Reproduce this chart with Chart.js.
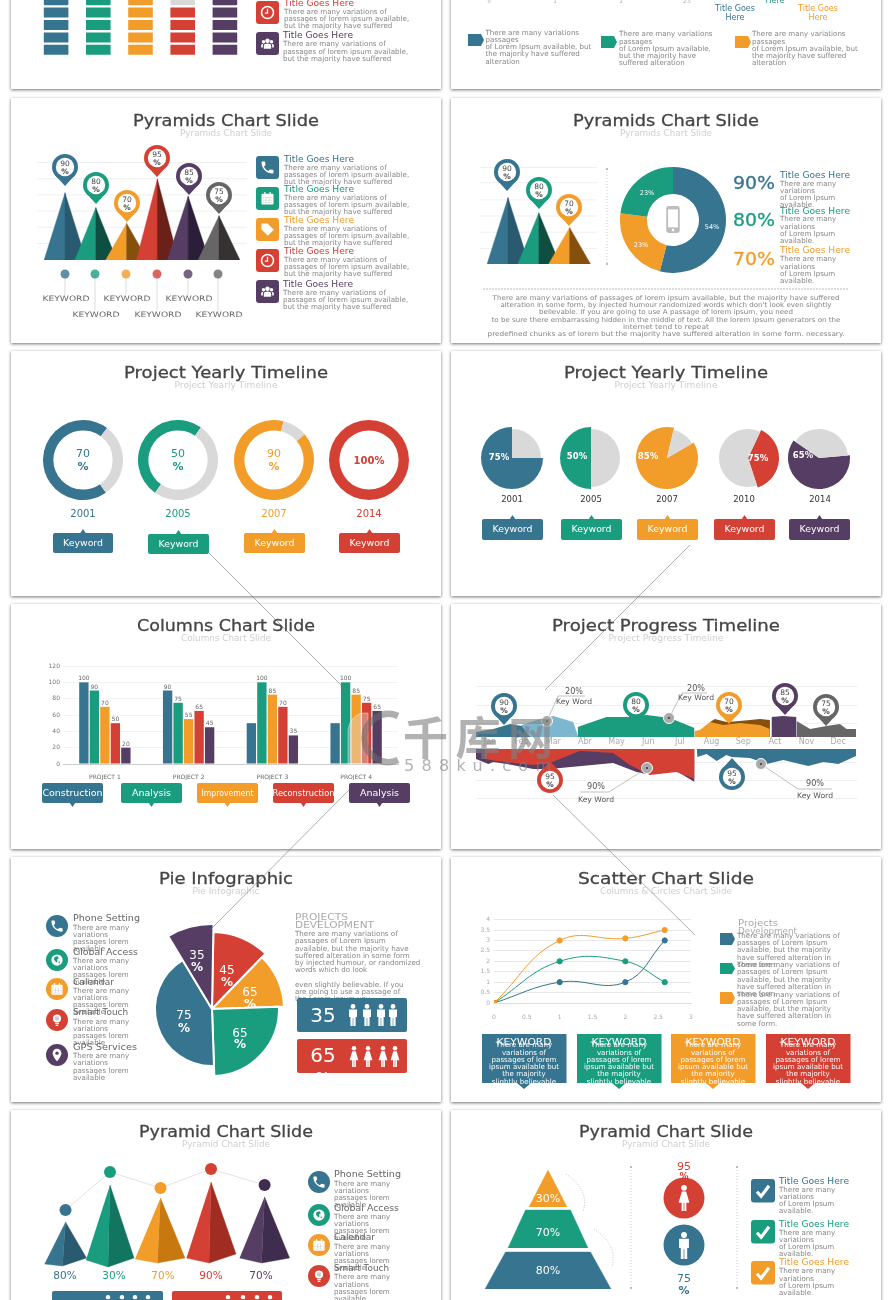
<!doctype html>
<html><head><meta charset="utf-8">
<script src="https://cdn.jsdelivr.net/npm/chart.js@4/dist/chart.umd.js"></script>
<style>
html,body{margin:0;padding:0;background:#fff;width:892px;height:1300px;overflow:hidden}
#page{position:relative;width:892px;height:1300px;overflow:hidden}
.card{position:absolute;width:430px;height:245px;background:#fff;box-shadow:0 1px 3px rgba(0,0,0,.55)}
canvas{position:absolute;display:block}
svg{position:absolute;left:0;top:0}
</style></head><body><div id="page"></div>
<script>
// ---------- data ----------
const BLUE='#37748f',GREEN='#1a9c7f',ORANGE='#f29c2a',RED='#d44033',PURPLE='#553d64',GRAY='#666666';
const cellColumns=[BLUE,GREEN,ORANGE,RED,PURPLE];
const cellRows=[[1,1,1,1,1],[1,1,1,1,1],[1,1,1,1,1],[1,1,1,1,1],[1,1,1,0,1]];

const pyramidHeightsA=[82,64,45,99,78,54];
const pyramidPinsA=[90,80,70,95,85,75];
const pyramidHeightsB=[82,63,45];
const pyramidPinsB=[90,80,70];
const donutShares=[54,23,23];
const donutLabels=['54%','23%','23%'];

const ringValues=[70,50,90,100];
const ringYears=['2001','2005','2007','2014'];
const pieYears=['2001','2005','2007','2010','2014'];
const pieLabels=['75%','50%','85%','75%','65%'];
const pieColoured=[75,50,87,38,61];

const barCategories=['PROJECT 1','PROJECT 2','PROJECT 3','PROJECT 4'];
const barBlue=[100,90,50,50];
const barGreen=[90,75,100,100];
const barOrange=[70,55,85,85];
const barRed=[50,65,70,75];
const barPurple=[20,45,35,65];
const barBlueLabels=[100,90,null,null];
const barTicks=[0,20,40,60,80,100,120];
const barButtons=['Construction','Analysis','Improvement','Reconstruction','Analysis'];

const months=['Jan','Feb','Mar','Abr','May','Jun','Jul','Aug','Sep','Act','Nov','Dec'];
const areaDarkBlueX=[-0.44,0.11,0.63,1,1.26],areaDarkBlueY=[5,8,13,11,0];
const areaLightBlueX=[0.74,1,1.68,2,2.63,2.79],areaLightBlueY=[0,12,19,21,15,0];
const areaGreenX=[2.77,3.68,4.42,4.95,5.68,6.46],areaGreenY=[10,20,20,22,19,9];
const areaOrangeX=[6.46,6.63,6.95,7.37,7.89,8.53,8.84],areaOrangeY=[6,7,15,12,14,12,8];
const areaBrownX=[6.95,7.1,7.47,7.89,8.53,8.84],areaBrownY=[15,18,15,16,18,17];
const areaPurpleX=[8.89,9.26,9.68],areaPurpleY=[20,21,20];
const areaGrayX=[9.68,10.11,10.63,11.05,11.26,11.56],areaGrayY=[16,8,11,13,8,8];
const lowRedX=[-0.16,-0.15,0.21,1.37,1.89,2.84,3.89,4.42,5.05,5.89,6.46],lowRedY=[0,10,12,16,14,2,4,16,26,23,30];
const lowPurpleX=[-0.44,-0.05,0.11,0.53,1.37,1.89,3.89,4.63,4.95,5.89,6.46],lowPurpleY=[10,15,13,15,20,20,14,23,25,22,33];
const lowBlueX=[6.53,6.55,6.84,7.16,7.47,7.63,8.21,8.74,9.26,10.05,10.53,11,11.56],lowBlueY=[0,8,5,12,6,8,9,15,11,17,13,15,7];
const timelineTopPins=[90,80,70,85,75];
const timelineLowPins=[95,95];

const pieValues=[43,44,90,151,32];
const pieReach=[77,72,67,57,85];
const pieTexts=['45','65','65','75','35'];

const scatterX=[0,1,2,2.6];
const scatterBlue=[0,1,1,3];
const scatterGreen=[0,2,2,1];
const scatterOrange=[0,3,3.1,3.5];

const peak3dHeights=[48,85,72,88,73];
const peak3dDots=[60,98,82,101,85];
const peak3dLabels=['80%','30%','70%','90%','70%'];
const funnelLabels=['30%','70%','80%'];

// ---------- helpers ----------
const FONT='"DejaVu Sans",sans-serif';
Chart.defaults.font.family=FONT;
Chart.defaults.animation=false;
Chart.defaults.responsive=false;
Chart.defaults.layout.autoPadding=false;
Chart.defaults.plugins.legend.display=false;
Chart.defaults.plugins.tooltip.enabled=false;
const page=document.getElementById('page');
const NS='http://www.w3.org/2000/svg';
[[11,-156],[451,-156],[11,98],[451,98],[11,351],[451,351],[11,604],[451,604],[11,857],[451,857],[11,1110],[451,1110]].forEach(([x,y])=>{
  const d=document.createElement('div');d.className='card';d.style.left=x+'px';d.style.top=y+'px';page.appendChild(d);
});
function mk(x,y,w,h,config){
  const c=document.createElement('canvas');c.width=w;c.height=h;c.style.left=x+'px';c.style.top=y+'px';c.style.width=w+'px';c.style.height=h+'px';
  page.appendChild(c);config.options=config.options||{};config.options.devicePixelRatio=1;
  return new Chart(c.getContext('2d'),config);
}
const hide=(min,max)=>({type:'linear',display:false,min,max});
const poly=(pts,color)=>({data:pts,showLine:true,fill:'shape',backgroundColor:color,borderColor:color,borderWidth:0.4,pointRadius:0,tension:0});
const area=(xs,ys,color)=>({data:xs.map((x,i)=>({x,y:ys[i]})),showLine:true,fill:'origin',backgroundColor:color,borderColor:color,borderWidth:0,pointRadius:0,tension:0});
const sliceReach={id:'sliceReach',afterDatasetsUpdate(chart,args,opts){
  if(!opts.reach)return;
  chart.getDatasetMeta(0).data.forEach((a,i)=>{a.outerRadius=opts.reach[i];});
}};
Chart.register(sliceReach);

// ---------- cells, top left ----------
mk(35,-6,211,62,{type:'bar',data:{labels:cellColumns.map((c,i)=>i),datasets:cellRows.map((row,r)=>({data:row.map(()=>1),
  backgroundColor:row.map((on,i)=>on?cellColumns[i]:'#d9d9d9'),borderColor:'#fff',borderWidth:1.2,borderSkipped:false,borderRadius:2.5,barPercentage:.64,categoryPercentage:1}))},
  options:{scales:{x:{stacked:true,display:false},y:{stacked:true,display:false,min:0,max:5}}}});

// ---------- pyramids ----------
const gridY=(max,step)=>({type:'linear',min:0,max,ticks:{display:false,stepSize:step},grid:{color:'#efefef',drawTicks:false},border:{display:false},afterFit:s=>{s.width=0}});
const faces=[[BLUE,'#2a5a70'],[GREEN,'#0f4f42'],[ORANGE,'#85500c'],[RED,'#6b2018'],[PURPLE,'#2b1e38'],[GRAY,'#363232']];
function pyramidSets(hs,hw){
  const out=[];
  hs.forEach((h,i)=>{
    out.unshift(poly([{x:i-hw,y:0},{x:i,y:h},{x:i,y:0}],faces[i][0]));
    out.unshift(poly([{x:i,y:0},{x:i,y:h},{x:i+hw,y:0}],faces[i][1]));
  });
  return out;
}
mk(37,162,210,97.5,{type:'scatter',data:{datasets:pyramidSets(pyramidHeightsA,.68)},options:{scales:{x:hide(-.91,5.91),y:gridY(120,20)}}});
mk(480,167,117,96.5,{type:'scatter',data:{datasets:pyramidSets(pyramidHeightsB,.68)},options:{scales:{x:hide(-.91,2.89),y:gridY(120,20)}}});

// donut, row 1 right
mk(620,167,106,106,{type:'doughnut',data:{labels:donutLabels,datasets:[{data:donutShares,backgroundColor:[BLUE,ORANGE,GREEN],borderWidth:0}]},options:{cutout:'49%'}});

// ---------- rings ----------
const ringRot=[145,215,50,0];const ringCx=[83,178,274,369];const ringCol=[BLUE,GREEN,ORANGE,RED];
ringValues.forEach((v,i)=>{
  mk(ringCx[i]-40,420,80,80,{type:'doughnut',data:{datasets:[{data:[v,100-v],backgroundColor:[ringCol[i],'#d9d9d9'],borderWidth:0}]},options:{cutout:'74%',rotation:ringRot[i]}});
});
// ---------- pies ----------
const pieCx=[512,591,667,748,819];const pieRot=[90,180,60,25,85];const pieCol=[BLUE,GREEN,ORANGE,RED,PURPLE];
pieColoured.forEach((v,i)=>{
  mk(pieCx[i]-32,426,64,64,{type:'pie',data:{datasets:[{data:[v,100-v],backgroundColor:[pieCol[i],'#d9d9d9'],borderWidth:0}]},
    options:{rotation:pieRot[i],plugins:{sliceReach:{reach:[31,29]}}}});
});

// ---------- bars ----------
const barValueLabels={id:'barValueLabels',afterDatasetsDraw(chart){
  const c=chart.ctx;c.save();c.font='6px '+FONT;c.fillStyle='#666';c.textAlign='center';
  chart.data.datasets.forEach((d,di)=>{
    chart.getDatasetMeta(di).data.forEach((b,i)=>{
      const lab=d.labelValues?d.labelValues[i]:d.data[i];
      if(lab!=null)c.fillText(String(lab),b.x,b.y-2);
    });
  });c.restore();
}};
const barSet=(data,color,labels)=>({data,labelValues:labels,backgroundColor:color,barPercentage:.89,categoryPercentage:.627});
mk(36,655,366,125,{type:'bar',plugins:[barValueLabels],data:{labels:barCategories,datasets:[
  barSet(barBlue,BLUE,barBlueLabels),barSet(barGreen,GREEN),barSet(barOrange,ORANGE),barSet(barRed,RED),barSet(barPurple,PURPLE)]},
  options:{layout:{padding:{top:11,right:4}},scales:{
    y:{min:0,max:120,afterBuildTicks:s=>{s.ticks=barTicks.map(value=>({value}))},ticks:{font:{size:6},color:'#777',padding:3},grid:{color:'#f3f3f3',drawTicks:false},border:{display:false},afterFit:s=>{s.width=27}},
    x:{ticks:{font:{size:6},color:'#666',padding:2},grid:{display:false},border:{color:'#ccc'},afterFit:s=>{s.height=16}}
  }}});

// ---------- timeline ----------
const tickAt=vals=>s=>{s.ticks=vals.map(value=>({value}))};
mk(476,669,381,68,{type:'scatter',data:{datasets:[
  area(areaDarkBlueX,areaDarkBlueY,BLUE),area(areaLightBlueX,areaLightBlueY,'#7cb6cf'),area(areaGreenX,areaGreenY,GREEN),
  area(areaOrangeX,areaOrangeY,ORANGE),area(areaBrownX,areaBrownY,'#85500c'),area(areaPurpleX,areaPurpleY,PURPLE),area(areaGrayX,areaGrayY,GRAY)]},
  options:{scales:{x:hide(-.44,11.59),y:{type:'linear',min:0,max:68,afterBuildTicks:tickAt([14,32,50]),ticks:{display:false},grid:{color:'#efefef',drawTicks:false},border:{display:false},afterFit:s=>{s.width=0}}}}});
mk(476,749,381,56,{type:'scatter',data:{datasets:[
  area(lowRedX,lowRedY,RED),area(lowPurpleX,lowPurpleY,PURPLE),area(lowBlueX,lowBlueY,BLUE)]},
  options:{scales:{x:hide(-.44,11.59),y:{type:'linear',reverse:true,min:0,max:56,afterBuildTicks:tickAt([13,31,49]),ticks:{display:false},grid:{color:'#efefef',drawTicks:false},border:{display:false},afterFit:s=>{s.width=0}}}}});

// ---------- pie infographic ----------
mk(122,919,180,180,{type:'pie',data:{labels:pieTexts,datasets:[{data:pieValues,backgroundColor:[RED,ORANGE,GREEN,BLUE,PURPLE],borderColor:'#fff',borderWidth:2}]},
  options:{rotation:1,plugins:{sliceReach:{reach:pieReach}}}});

// ---------- scatter ----------
const lineSet=(ys,c)=>({data:scatterX.map((x,i)=>({x,y:ys[i]})),showLine:true,borderColor:c,backgroundColor:c,borderWidth:1,pointRadius:2.6,tension:.42});
const plain=v=>String(v);
mk(470,912,230,108,{type:'scatter',data:{datasets:[lineSet(scatterOrange,ORANGE),lineSet(scatterGreen,GREEN),lineSet(scatterBlue,BLUE)]},
  options:{layout:{padding:{top:7,right:9}},scales:{
    x:{type:'linear',min:0,max:3,ticks:{stepSize:.5,font:{size:6},color:'#aaa',padding:3,callback:plain},grid:{display:false},border:{color:'#ddd'},afterFit:s=>{s.height=17}},
    y:{type:'linear',min:0,max:4,ticks:{stepSize:.5,font:{size:6},color:'#aaa',padding:4,callback:plain},grid:{color:'#e8e8e8',drawTicks:false},border:{display:false},afterFit:s=>{s.width=24}}
  }}});

// ---------- 3d pyramids ----------
const peak3dCol=[[BLUE,'#2a5a70'],[GREEN,'#117560'],[ORANGE,'#c7780f'],[RED,'#a12c22'],[PURPLE,'#3f2d4f']];
const peakX=[25.5,70,120.5,171,224.6];
const peakShape=[[-21,6,-3,4,21,12],[-24,10,-2,3,24,12],[-25.5,11,-3,7,24.5,12],[-24.5,12,-2,7,25,16],[-25,12,-3,7,25,12]];
const peakSets=[{data:peakX.map((x,i)=>({x,y:peak3dDots[i]})),showLine:true,borderColor:'#e2e2e2',borderWidth:1,pointRadius:6,pointBorderWidth:0,pointBackgroundColor:[BLUE,GREEN,ORANGE,RED,'#3f2d4f'],tension:0}];
peak3dHeights.forEach((h,i)=>{
  const c=peakX[i],s=peakShape[i];
  peakSets.push(poly([{x:c,y:h},{x:c+s[4],y:s[5]},{x:c+s[2],y:s[3]}],peak3dCol[i][1]));
  peakSets.push(poly([{x:c,y:h},{x:c+s[2],y:s[3]},{x:c+s[0],y:s[1]}],peak3dCol[i][0]));
});
mk(40,1160,255,110,{type:'scatter',data:{datasets:peakSets},options:{scales:{x:hide(0,255),y:hide(0,110)}}});

// ---------- funnel ----------
mk(478,1165,140,130,{type:'scatter',data:{datasets:[
  poly([{x:-19,y:88},{x:0,y:125},{x:19,y:88}],ORANGE),
  poly([{x:-40,y:47},{x:-22.5,y:85},{x:22.5,y:85},{x:40,y:47}],GREEN),
  poly([{x:-63,y:6},{x:-42.5,y:43},{x:42.5,y:43},{x:63,y:6}],BLUE)]},
  options:{scales:{x:hide(-70,70),y:hide(0,130)}}});

// ---------- overlay svg ----------
const fg=document.createElementNS(NS,'svg');fg.setAttribute('width',892);fg.setAttribute('height',1300);page.appendChild(fg);
function el(tag,a,parent){const e=document.createElementNS(NS,tag);for(const k in a)e.setAttribute(k,a[k]);(parent||fg).appendChild(e);return e;}
function T(x,y,s,size,color,o){o=o||{};
  const a={x,y,'font-size':size,fill:color,'text-anchor':o.a||'start','dominant-baseline':'central','font-family':o.f||FONT,'font-weight':o.w||400};
  if(o.len){a.textLength=o.len;a.lengthAdjust=o.adj||'spacingAndGlyphs';}
  if(o.stroke){a.stroke=color;a['stroke-width']=o.stroke;}
  const e=el('text',a);e.textContent=s;return e;}
const BODY='#858585';
function L(x,ys,strs,size,color,o){strs.forEach((s,i)=>{if(ys[i]!=null)T(x,ys[i],s,size,color||BODY,o)});}
function head(cx,yT,yS,t,tl,s,sl){T(cx,yT,t,16.5,'#444',{a:'middle',len:tl,stroke:.3});T(cx,yS,s,8,'#cfcfcf',{a:'middle',len:sl});}
function goes(x,y,c){T(x,y,'Title Goes Here',8.5,c,{len:70});}
function rr(x,y,w,h,r,f){return el('rect',{x,y,width:w,height:h,rx:r,fill:f});}
function pin(cx,cy,color,val,dir){dir=dir||1;const r=13;
  el('path',{d:`M${cx-r*.82} ${cy+dir*r*.55}L${cx} ${cy+dir*19}L${cx+r*.82} ${cy+dir*r*.55}Z`,fill:color});
  el('circle',{cx,cy,r,fill:color});el('circle',{cx,cy,r:r-3.8,fill:'#fff'});
  T(cx,cy-4,String(val),7.5,'#444',{a:'middle'});T(cx,cy+4.5,'%',7.5,'#444',{a:'middle',w:700});}
function icon(name,cx,cy,s,col){col=col||'#fff';
  const g=el('g',{transform:`translate(${cx-s/2} ${cy-s/2}) scale(${s/24})`});
  const p=(d,a)=>el('path',Object.assign({d,fill:col},a||{}),g);
  const c=(x,y,r,a)=>el('circle',Object.assign({cx:x,cy:y,r,fill:col},a||{}),g);
  if(name==='phone')p('M6.62 10.79c1.44 2.83 3.76 5.14 6.59 6.59l2.2-2.2c.27-.27.67-.36 1.02-.24 1.12.37 2.33.57 3.57.57.55 0 1 .45 1 1V20c0 .55-.45 1-1 1-9.39 0-17-7.61-17-17 0-.55.45-1 1-1h3.5c.55 0 1 .45 1 1 0 1.25.2 2.45.57 3.57.11.35.03.74-.25 1.02l-2.2 2.2z');
  if(name==='cal'){el('rect',{x:3,y:5,width:18,height:16,rx:1.5,fill:col},g);el('rect',{x:5,y:10,width:14,height:9,fill:'rgba(0,0,0,.18)'},g);
    for(let i=0;i<3;i++)for(let j=0;j<2;j++)el('rect',{x:5.6+i*4.6,y:10.6+j*4.2,width:3.6,height:3.4,fill:col},g);
    el('rect',{x:7,y:2.5,width:2,height:4,fill:col},g);el('rect',{x:15,y:2.5,width:2,height:4,fill:col},g);}
  if(name==='tag'){p('M3 3h9l9.5 9.5-9 9L3 12z');}
  if(name==='clock'){c(12,12,9,{fill:'none',stroke:col,'stroke-width':2.4});p('M11 6.5h2V14H8v-2h3z');}
  if(name==='people'){c(12,8,3.4);c(6,9.5,2.6);c(18,9.5,2.6);p('M6.5 20v-4.5c0-2.4 2-3.6 5.5-3.6s5.5 1.2 5.5 3.6V20z');p('M2.5 18v-3c0-1.7 1.3-2.7 3.4-2.8-.6.9-.9 2-.9 3.3V18z');p('M21.5 18v-3c0-1.7-1.3-2.7-3.4-2.8.6.9.9 2 .9 3.3V18z');}
  if(name==='globe'){c(12,12,9);p('M8 7l5-1 2 3-3 2 1 3-2 2-4-5z',{fill:'rgba(26,156,127,1)'});p('M14 15l3-1-1 4z',{fill:'rgba(26,156,127,1)'});}
  if(name==='bulb'){c(12,9.5,6.5);el('rect',{x:9,y:16.5,width:6,height:2,fill:col},g);el('rect',{x:10,y:19.5,width:4,height:2,fill:col},g);c(12,9.5,3.5,{fill:'rgba(0,0,0,.2)'});}
  if(name==='pin'){p('M12 2a7 7 0 0 0-7 7c0 5 7 13 7 13s7-8 7-13a7 7 0 0 0-7-7z');c(12,9,2.6,{fill:'#553d64'});}
  if(name==='check'){el('path',{d:'M4 13l5.5 6L20 5',fill:'none',stroke:col,'stroke-width':4.2},g);}
  if(name==='phoneBig'){el('rect',{x:6,y:0,width:12,height:24,rx:2.2,fill:col},g);el('rect',{x:7.6,y:3,width:8.8,height:16,fill:'#fff'},g);c(12,21.4,1.2,{fill:'#fff'});}
}
function man(cx,top,h,col){col=col||'#fff';const u=h/22;
  el('circle',{cx,cy:top+2.4*u,r:2.4*u,fill:col});
  el('path',{d:`M${cx-4*u} ${top+5.5*u}H${cx+4*u}V${top+13*u}H${cx+2.6*u}V${top+22*u}H${cx+.3*u}V${top+14*u}H${cx-.3*u}V${top+22*u}H${cx-2.6*u}V${top+13*u}H${cx-4*u}Z`,fill:col});}
function woman(cx,top,h,col){col=col||'#fff';const u=h/22;
  el('circle',{cx,cy:top+2.4*u,r:2.4*u,fill:col});
  el('path',{d:`M${cx-1.8*u} ${top+5.5*u}H${cx+1.8*u}L${cx+4.6*u} ${top+15*u}H${cx+2*u}V${top+22*u}H${cx+.3*u}V${top+15*u}H${cx-.3*u}V${top+22*u}H${cx-2*u}V${top+15*u}H${cx-4.6*u}Z`,fill:col});}

// ---- row 0 ----
const rep3=['There are many variations of','passages of lorem ipsum available,','but the majority have suffered'];
const size=7.1;
rr(256,1,23,23,3,RED);icon('clock',267.5,12.5,16);
goes(284,3,RED);L(284,[11,18,25],rep3,size);
rr(256,32,23,23,3,PURPLE);icon('people',267.5,43.5,16);
goes(283,35,PURPLE);L(283,[43,51,58],rep3,size);
[489,555,621,687].forEach((x,i)=>T(x,1,['0','1','2','2.5'][i],5,'#aaa',{a:'middle'}));
T(775,0,'Here',8,GREEN,{a:'middle'});
L(735,[8,17],['Title Goes','Here'],8,BLUE,{a:'middle'});L(818,[8,17],['Title Goes','Here'],8,ORANGE,{a:'middle'});
function tag(x,y,w,h,c){el('path',{d:`M${x} ${y}H${x+w-3}L${x+w} ${y+h/2}L${x+w-3} ${y+h}H${x}Z`,fill:c});}
tag(468,34,16,12,BLUE);tag(601,36,16,12,GREEN);tag(735,36,16,12,ORANGE);
L(485.5,[32,39,46,53,61],['There are many variations','passages','of Lorem Ipsum available, but','the majority have suffered','alteration'],size);
L(619,[33,41,48,55,62],['There are many variations','passages','of Lorem Ipsum available,','but the majority have','suffered alteration'],size);
L(752,[33,41,48,55,62],['There are many variations','passages','of Lorem Ipsum available, but','the majority have suffered','alteration'],size);

// ---- row 1 left ----
head(226,120,133,'Pyramids Chart Slide',186,'Pyramids Chart Slide',92);
[[65,167],[96,185],[127,203],[157,158],[189,176],[219,195]].forEach((p,i)=>pin(p[0],p[1],faces[i][0],pyramidPinsA[i]));
[65,95,126,157,188,218].forEach((x,i)=>{
  el('line',{x1:x,y1:274,x2:x,y2:i%2?310:295,stroke:'#ddd'});
  el('circle',{cx:x,cy:274,r:4.5,fill:faces[i][0],opacity:.8});
});
[[66,298],[96,314],[127,298],[158,314],[189,298],[219,314]].forEach(p=>T(p[0],p[1],'KEYWORD',7.5,'#666',{a:'middle',len:47}));
[[156,BLUE,'phone',159],[187,GREEN,'cal',189],[218,ORANGE,'tag',220],[249,RED,'clock',251],[280,PURPLE,'people',284]].forEach((r,i)=>{
  rr(256,r[0],23,23,3,r[1]);icon(r[2],267.5,r[0]+11.5,16);
  const x=i==4?283:284,y=r[3];
  goes(x,y,r[1]);L(x,[y+8,y+15.5,y+22.5],rep3,size);
});

// ---- row 1 right ----
head(666,120,133,'Pyramids Chart Slide',186,'Pyramids Chart Slide',92);
[[507,172],[539,190],[569,207]].forEach((p,i)=>pin(p[0],p[1],faces[i][0],pyramidPinsB[i]));
el('line',{x1:607,y1:169,x2:607,y2:264,stroke:'#ccc','stroke-dasharray':'1 2'});
el('circle',{cx:607,cy:169,r:1,fill:'#aaa'});el('circle',{cx:607,cy:264,r:1,fill:'#aaa'});
icon('phoneBig',673,219.5,27,'#bdbdbd');
T(712,227,donutLabels[0],6.5,'#fff',{a:'middle'});T(641,245,donutLabels[1],6.5,'#fff',{a:'middle'});T(647,193,donutLabels[2],6.5,'#fff',{a:'middle'});
[['90%',182,BLUE,175,[183,190,197,204]],['80%',219,GREEN,211,[218,226,233,240]],['70%',258,ORANGE,250,[258,266,273,280]]].forEach(r=>{
  T(733,r[1],r[0],18,r[2],{len:42,stroke:.3});
  goes(780,r[3],r[2]);
  L(780,r[4],['There are many','variations','of Lorem Ipsum','available.'],size);
});
el('line',{x1:483,y1:289,x2:848,y2:289,stroke:'#bbb','stroke-dasharray':'2 1'});
[['There are many variations of passages of lorem ipsum available, but the majority have suffered',298,347],
 ["alteration in some form, by injected humour randomized words which don't look even slightly",305,331],
 ['believable. If you are going to use A passage of lorem ipsum, you need',312,254],
 ['to be sure there embarrassing hidden in the middle of text. All the lorem ipsum generators on the',320,349],
 ['internet tend to repeat',327,86],
 ['predefined chunks as of lorem but the majority have suffered alteration in some form. necessary.',334,357]].forEach(r=>T(666,r[1],r[0],6.7,BODY,{a:'middle',len:r[2]}));

// ---- row 2 left ----
head(226,372,385,'Project Yearly Timeline',204,'Project Yearly Timeline',103);
function kbox(x,y,w,h,c,txt,size0,dir,len){rr(x,y,w,h,2,c);const m=x+w/2;
  if(dir<0)el('path',{d:`M${m-3} ${y+.5}L${m} ${y-4}L${m+3} ${y+.5}Z`,fill:c});
  else el('path',{d:`M${m-3} ${y+h-.5}L${m} ${y+h+4}L${m+3} ${y+h-.5}Z`,fill:c});
  T(m,y+h/2,txt,size0,'#fff',{a:'middle',len});}
ringValues.forEach((v,i)=>{
  if(v<100){T(ringCx[i],453,String(v),11,ringCol[i],{a:'middle'});T(ringCx[i],466,'%',11,ringCol[i],{a:'middle',w:700});}
  else T(ringCx[i],460,v+'%',10,RED,{a:'middle',w:700});
  T(ringCx[i],513,ringYears[i],10,ringCol[i],{a:'middle'});
});
[53,148,244,339].forEach((x,i)=>kbox(x,i==1?534:533,i==0?60:61,20,ringCol[i],'Keyword',8,-1,40));

// ---- row 2 right ----
head(666,372,385,'Project Yearly Timeline',204,'Project Yearly Timeline',103);
[[499,457],[577,456],[648,456],[758,458],[803,455]].forEach((p,i)=>T(p[0],p[1],pieLabels[i],8.5,'#fff',{a:'middle',w:700}));
[512,591,667,744,820].forEach((x,i)=>T(x,499,pieYears[i],8.5,'#333',{a:'middle'}));
[482,561,637,714,789].forEach((x,i)=>kbox(x,519,61,21,pieCol[i],'Keyword',8,-1,40));

// ---- row 3 left ----
head(226,625,638,'Columns Chart Slide',178,'Columns Chart Slide',90);
[42,121,197,273,349].forEach((x,i)=>kbox(x,783,61,20,pieCol[i],barButtons[i],8.5,1,[60,39,52,62,39][i]));

// ---- row 3 right ----
head(666,625,638,'Project Progress Timeline',228,'Project Progress Timeline',115);
months.forEach((m,i)=>T(490+i*31.65,741,m,8,'#aaa',{a:'middle'}));
[[504,706,BLUE],[636,705,GREEN],[729,705,ORANGE],[785,696,PURPLE],[826,707,GRAY]].forEach((p,i)=>pin(p[0],p[1],p[2],timelineTopPins[i]));
pin(550,780,RED,timelineLowPins[0],-1);pin(732,777,BLUE,timelineLowPins[1],-1);
function marker(x,y,pts,pct,py,ky,tx){
  el('polyline',{points:[[x,y]].concat(pts).map(p=>p.join(',')).join(' '),fill:'none',stroke:'#999','stroke-width':.6});
  el('circle',{cx:x,cy:y,r:5.5,fill:'#aaa',stroke:'#fff','stroke-width':1});el('circle',{cx:x,cy:y,r:1,fill:'#333'});
  T(tx,py,pct,9,'#555',{a:'middle',len:18});T(tx,ky,'Key Word',7.5,'#555',{a:'middle',len:36});
}
marker(547,721,[[558,696],[585,696]],'20%',691,701,574);
marker(669,718,[[682,693],[707,693]],'20%',688,697,696);
marker(647,768,[[609,792],[580,792]],'90%',786,799,596);
marker(761,764,[[798,789],[832,789]],'90%',783,795,815);

// ---- row 4 left ----
head(226,878,891,'Pie Infographic',134,'Pie Infographic',67);
[[227,970,982],[250,992,1004],[240,1033,1044],[184,1015,1028],[197,955,967]].forEach((p,i)=>{
  T(p[0],p[1],pieTexts[i],12,'#fff',{a:'middle'});T(p[0],p[2],'%',12,'#fff',{a:'middle',w:700});});
const listA=['There are many','variations','passages lorem','available'];
[[926,BLUE,'phone','Phone Setting',918,[927,934,941,948],67],[960,GREEN,'globe','Global Access',952,[960,967,974,981],65],
 [989,ORANGE,'cal','Calendar',982,[990,997,1004,1011],41],[1020,RED,'bulb','Smart Touch',1012,[1021,1028,1035,1042],55],[1055,PURPLE,'pin','GPS Services',1047,[1055,1062,1070,1077],64]].forEach(r=>{
  el('circle',{cx:57,cy:r[0],r:11,fill:r[1]});icon(r[2],57,r[0],15);
  T(73,r[4],r[3],8.5,'#666',{len:r[6]});L(73,r[5],listA,size);
});
T(295,917,'PROJECTS',8.5,'#aaa',{len:53});T(295,925,'DEVELOPMENT',8.5,'#aaa',{len:79});
L(295,[933,940,948,955,962,969],['There are many variations of','passages of Lorem Ipsum','available, but the majority have','suffered alteration in some form','by injected humour, or randomized','words which do look'],size);
L(295,[984,991,998],['even slightly believable. If you','are going to use a passage of','the Lorem Ipsum you'],size);
rr(297,998,110,34,2,BLUE);T(323,1015,'35',20,'#fff',{a:'middle'});T(323,1038,'%',14,'#fff',{a:'middle',w:700});
[353,367,381,393].forEach(x=>man(x,1004,22));
rr(297,1039,110,34,2,RED);T(323,1055,'65',20,'#fff',{a:'middle'});T(323,1077,'%',14,'#fff',{a:'middle',w:700});
[354,368,383,395].forEach(x=>woman(x,1046,21));

// ---- row 4 right ----
head(666,878,891,'Scatter Chart Slide',176,'Columns & Circles Chart Slide',132);
T(738,923,'Projects',9,'#aaa',{len:40});T(738,931,'Development',9,'#aaa',{len:59});
tag(720,933,15,12,BLUE);tag(720,963,15,11,GREEN);tag(720,992,15,12,ORANGE);
const listB=['There are many variations of','passages of Lorem Ipsum','available, but the majority','have suffered alteration in','some form.'];
L(737,[935,942,949,957,964],listB,size);L(737,[964,971,979,986,993],listB,size);L(737,[994,1001,1008,1015,1023],listB,size);
[[482,BLUE],[577,GREEN],[671,ORANGE],[766,RED]].forEach(r=>{
  rr(r[0],1034,84.5,49,0,r[1]);
  const m=r[0]+42;el('path',{d:`M${m-7} 1083H${m+7}L${m} 1089Z`,fill:r[1]});
  T(m,1042,'KEYWORD',9,'#fff',{a:'middle',len:55});
  L(m,[1044,1052,1059,1066,1073,1081],['There are many','variations of','passages of lorem','ipsum available but','the majority','slightly believable'],size,'#fff',{a:'middle'});
});

// ---- row 5 left ----
head(226,1131,1144,'Pyramid Chart Slide',174,'Pyramid Chart Slide',88);
[65,114,163,211,261].forEach((x,i)=>T(x,1275,peak3dLabels[i],10.5,[BLUE,GREEN,ORANGE,RED,PURPLE][i],{a:'middle'}));
rr(52,1291,111,30,2,BLUE);rr(172,1291,110,30,2,RED);
[108,122,135,148].forEach(x=>man(x,1295,20));[228,243,257,270].forEach(x=>man(x,1295,20));
[[1182,BLUE,'phone','Phone Setting',1174,[1183,1190,1197,1204],67],[1215,GREEN,'globe','Global Access',1208,[1216,1223,1230,1237],65],
 [1245,ORANGE,'cal','Calendar',1237,[1246,1253,1260,1267],41],[1276,RED,'bulb','Smart Touch',1268,[1276,1284,1291,1298],55]].forEach(r=>{
  el('circle',{cx:319,cy:r[0],r:11,fill:r[1]});icon(r[2],319,r[0],15);
  T(334,r[4],r[3],8.5,'#666',{len:r[6]});L(334,r[5],listA,size);
});
el('circle',{cx:319,cy:1311,r:11,fill:'#ddd'});

// ---- row 5 right ----
head(666,1131,1144,'Pyramid Chart Slide',174,'Pyramid Chart Slide',88);
T(548,1198,funnelLabels[0],11,'#fff',{a:'middle'});T(548,1232,funnelLabels[1],11,'#fff',{a:'middle'});T(548,1270,funnelLabels[2],11,'#fff',{a:'middle'});
[631,737].forEach(x=>{el('line',{x1:x,y1:1167,x2:x,y2:1288,stroke:'#ccc','stroke-dasharray':'1 2'});el('circle',{cx:x,cy:1167,r:1,fill:'#aaa'});el('circle',{cx:x,cy:1288,r:1,fill:'#aaa'});});
el('path',{d:'M566 1174Q590 1190 583 1212',fill:'none',stroke:'#aaa','stroke-width':.7,'stroke-dasharray':'1 1.5'});
el('path',{d:'M594 1229Q618 1245 612 1267',fill:'none',stroke:'#aaa','stroke-width':.7,'stroke-dasharray':'1 1.5'});
T(684,1166,'95',11,RED,{a:'middle'});
el('circle',{cx:684,cy:1198,r:20.5,fill:RED});woman(684,1185,26);T(684,1176,'%',9,RED,{a:'middle',w:700});
el('circle',{cx:684,cy:1245,r:20.5,fill:BLUE});man(684,1232,27);
T(684,1278,'75',11,BLUE,{a:'middle'});T(684,1290,'%',11,BLUE,{a:'middle',w:700});
[[1179,BLUE,1181,[1189,1196,1203,1210]],[1220,GREEN,1224,[1232,1239,1246,1253]],[1261,ORANGE,1262,[1270,1278,1285,1292]]].forEach(r=>{
  rr(751,r[0],24,23.5,3,r[1]);icon('check',763,r[0]+12,18);
  goes(779,r[2],r[1]);L(779,r[3],['There are many','variations','of Lorem Ipsum','available.'],size);
});

// ---- watermark and diagonals ----
[[209,553,345,689],[349,790,210,930],[690,545,545,690],[553,795,695,935]].forEach(l=>el('line',{x1:l[0],y1:l[1],x2:l[2],y2:l[3],stroke:'rgba(120,120,120,.6)','stroke-width':1}));
el('path',{d:'M348 764V732a17 19 0 0 1 17-19h3v51z',fill:'rgba(225,225,225,.4)',stroke:'rgba(255,255,255,.4)'});
el('path',{d:'M398 716A24 24 0 1 0 398 760',fill:'none',stroke:'rgba(110,110,110,.55)','stroke-width':6.5});
T(403,735,'千库网',45,'rgba(130,130,130,.62)',{f:'"Noto Sans CJK SC",sans-serif',len:150,w:700,adj:'spacing'});
T(404,765,'588ku.com',16,'rgba(130,130,130,.62)',{len:147,adj:'spacing'});
</script></body></html>
